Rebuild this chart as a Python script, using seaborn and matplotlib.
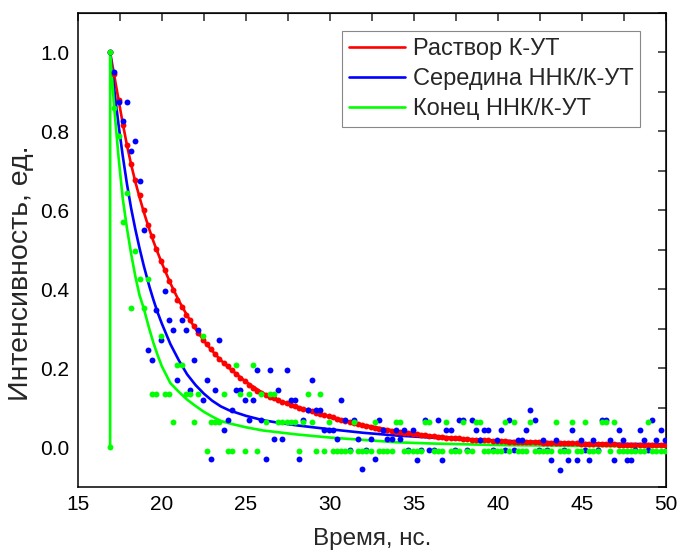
import numpy as np
import pandas as pd
import seaborn as sns
import matplotlib.pyplot as plt
from matplotlib.ticker import MultipleLocator

# time channels (ns)
t0 = 16.92
dt = 0.25
n_ch = 133

red_pts = [1.000, 0.946, 0.880, 0.817, 0.765, 0.716, 0.676, 0.640, 0.602, 0.562,
           0.534, 0.502, 0.473, 0.448, 0.420, 0.398, 0.374, 0.355, 0.336, 0.322,
           0.308, 0.290, 0.272, 0.261, 0.248, 0.236, 0.225, 0.214, 0.205, 0.195,
           0.185, 0.176, 0.167, 0.158, 0.150, 0.144, 0.139, 0.133, 0.128, 0.124,
           0.120, 0.116, 0.112, 0.108, 0.105, 0.101, 0.098, 0.094, 0.091, 0.088,
           0.085, 0.082, 0.079, 0.076, 0.073, 0.070, 0.067, 0.065, 0.062, 0.060,
           0.057, 0.055, 0.052, 0.050, 0.047, 0.045, 0.044, 0.042, 0.040, 0.039,
           0.037, 0.036, 0.034, 0.033, 0.032, 0.031, 0.030, 0.029, 0.027, 0.026,
           0.025, 0.025, 0.024, 0.023, 0.022, 0.021, 0.020, 0.020, 0.019, 0.019,
           0.018, 0.017, 0.017, 0.016, 0.016, 0.015, 0.015, 0.015, 0.014, 0.014,
           0.013, 0.013, 0.013, 0.012, 0.012, 0.012, 0.011, 0.011, 0.011, 0.010,
           0.010, 0.010, 0.009, 0.009, 0.009, 0.009, 0.008, 0.008, 0.008, 0.008,
           0.008, 0.007, 0.007, 0.007, 0.007, 0.006, 0.006, 0.006, 0.006, 0.006,
           0.005, 0.005, 0.005]

blue_pts = [1.000, 0.950, 0.875, 0.825, 0.875, 0.750, 0.775, 0.675, 0.550, 0.247,
            0.222, 0.348, 0.273, 0.397, 0.323, 0.298, 0.171, 0.323, 0.298, 0.146,
            0.222, 0.298, 0.121, 0.171, -0.029, 0.146, 0.273, 0.045, 0.070, 0.095,
            0.146, 0.146, 0.121, 0.070, 0.121, 0.197, 0.070, -0.029, 0.197, 0.022,
            0.146, 0.022, 0.197, 0.121, 0.121, -0.029, 0.070, 0.095, 0.171, 0.095,
            0.095, 0.045, 0.045, 0.045, 0.022, 0.121, 0.070, -0.006, 0.070, 0.022,
            -0.054, -0.006, 0.022, -0.029, 0.070, 0.045, 0.022, 0.022, 0.045, 0.022,
            0.045, -0.006, 0.045, -0.031, -0.006, 0.070, -0.006, -0.006, 0.070, -0.031,
            0.045, 0.045, -0.006, 0.070, 0.070, -0.006, 0.070, 0.045, 0.020, 0.045,
            0.045, -0.006, 0.020, 0.045, -0.006, 0.070, -0.006, 0.020, 0.020, 0.045,
            0.095, 0.070, -0.006, 0.020, -0.006, -0.031, 0.020, -0.056, -0.006, -0.031,
            0.045, -0.031, 0.020, -0.006, -0.031, 0.020, -0.006, 0.070, 0.070, 0.020,
            -0.031, 0.045, 0.020, -0.031, -0.031, -0.006, 0.045, 0.020, -0.006, 0.070,
            0.020, 0.045, 0.020]

green_start = 0.0  # extra point at the peak channel
green_pts = [1.000, 0.860, 0.787, 0.570, 0.643, 0.354, 0.497, 0.425, 0.354, 0.425,
             0.136, 0.136, 0.281, 0.136, 0.136, 0.064, 0.208, 0.208, 0.136, 0.136,
             0.064, 0.136, 0.281, -0.008, 0.064, 0.064, 0.064, 0.136, -0.008, -0.008,
             0.208, 0.136, -0.008, 0.136, 0.208, -0.008, 0.136, 0.064, 0.136, 0.136,
             0.064, 0.064, 0.064, 0.064, 0.064, -0.008, 0.064, 0.136, 0.064, -0.008,
             0.136, -0.008, 0.064, -0.008, -0.008, -0.008, -0.008, -0.008, 0.064, -0.008,
             -0.008, -0.008, -0.008, 0.064, -0.008, -0.008, -0.008, -0.008, 0.064, 0.064,
             -0.008, -0.008, -0.008, -0.008, -0.008, 0.064, 0.064, -0.008, -0.008, -0.008,
             0.064, -0.008, -0.008, -0.008, 0.064, -0.008, -0.008, 0.064, 0.064, -0.008,
             -0.008, -0.008, -0.008, -0.008, 0.064, -0.008, 0.064, -0.008, -0.008, -0.008,
             0.064, -0.008, -0.008, -0.008, -0.008, -0.008, 0.064, -0.008, -0.008, -0.008,
             0.064, -0.008, -0.008, 0.064, -0.008, -0.008, -0.008, 0.064, 0.064, -0.008,
             0.064, -0.008, -0.008, -0.008, -0.008, -0.008, -0.008, -0.008, 0.064, -0.008,
             -0.008, -0.008, -0.008]

# fitted curves
fit_t = [16.92, 17.17, 17.42, 17.67, 17.92, 18.17, 18.42, 18.67, 18.92, 19.25,
         19.5, 19.75, 20.0, 20.5, 21.0, 21.5, 22.0, 22.5, 23.0, 23.5,
         24.0, 25.0, 26.0, 27.0, 28.0, 29.0, 30.0, 32.0, 34.0, 36.0,
         38.0, 40.0, 42.5, 45.0, 47.5, 50.0]
red_fit = [1.0, 0.94, 0.88, 0.82, 0.765, 0.716, 0.672, 0.633, 0.596, 0.552,
           0.521, 0.493, 0.466, 0.416, 0.372, 0.334, 0.300, 0.270, 0.244, 0.221,
           0.201, 0.166, 0.138, 0.118, 0.104, 0.090, 0.078, 0.057, 0.041, 0.030,
           0.022, 0.017, 0.013, 0.009, 0.007, 0.005]
blue_fit = [1.0, 0.904, 0.817, 0.738, 0.667, 0.605, 0.552, 0.504, 0.460, 0.408,
            0.373, 0.341, 0.313, 0.262, 0.221, 0.185, 0.158, 0.136, 0.118, 0.104,
            0.094, 0.080, 0.069, 0.062, 0.056, 0.051, 0.046, 0.037, 0.030, 0.025,
            0.020, 0.017, 0.014, 0.011, 0.009, 0.008]
green_fit = [1.0, 0.857, 0.735, 0.63, 0.555, 0.49, 0.433, 0.385, 0.352, 0.30,
             0.264, 0.233, 0.205, 0.163, 0.141, 0.121, 0.105, 0.090, 0.078, 0.067,
             0.061, 0.051, 0.043, 0.038, 0.033, 0.029, 0.025, 0.019, 0.013, 0.010,
             0.008, 0.006, 0.005, 0.004, 0.003, 0.003]

labels = ['Раствор К-УТ', 'Середина ННК/К-УТ', 'Конец ННК/К-УТ']
colors = ['#ff0000', '#0000ff', '#00ff00']

t = t0 + dt * np.arange(n_ch)
pts_red = pd.DataFrame({'t': t, 'y': red_pts})
pts_blue = pd.DataFrame({'t': t, 'y': blue_pts})
pts_green = pd.DataFrame({'t': np.r_[t0, t], 'y': [green_start] + green_pts})
fit_red = pd.DataFrame({'t': fit_t, 'y': red_fit})
fit_blue = pd.DataFrame({'t': fit_t, 'y': blue_fit})
fit_green = pd.DataFrame({'t': [t0] + fit_t, 'y': [green_start] + green_fit})

sns.set_style('white')
plt.rcParams['font.family'] = ['Liberation Sans', 'DejaVu Sans']

fig, ax = plt.subplots(figsize=(6.77, 5.54), dpi=100)
fig.subplots_adjust(left=0.115, right=0.984, bottom=0.121, top=0.977)

# fit lines
for d, c, lab in zip([fit_red, fit_blue, fit_green], colors, labels):
    sns.lineplot(data=d, x='t', y='y', color=c, lw=1.9, sort=False, estimator=None,
                 ax=ax, zorder=2, label=lab)

# points
for d, c in zip([pts_red, pts_blue, pts_green], colors):
    sns.scatterplot(data=d, x='t', y='y', color=c, s=18, linewidth=0, ax=ax, zorder=3)

ax.set_xlim(15, 50)
ax.set_ylim(-0.1, 1.1)
ax.xaxis.set_major_locator(MultipleLocator(5))
ax.xaxis.set_minor_locator(MultipleLocator(2.5))
ax.yaxis.set_major_locator(MultipleLocator(0.2))
ax.yaxis.set_minor_locator(MultipleLocator(0.1))
ax.yaxis.set_major_formatter(plt.FormatStrFormatter('%.1f'))

for s in ax.spines.values():
    s.set_linewidth(1.1)
    s.set_color('black')
ax.tick_params(which='major', direction='in', length=6, width=1.1, labelsize=15,
               colors='black', pad=6)
ax.tick_params(which='minor', direction='out', length=4, width=1.1)

top = ax.secondary_xaxis('top')
top.xaxis.set_major_locator(MultipleLocator(5))
top.xaxis.set_minor_locator(MultipleLocator(2.5))
top.tick_params(which='both', direction='in', length=6, width=1.1, labeltop=False)
right = ax.secondary_yaxis('right')
right.yaxis.set_major_locator(MultipleLocator(0.2))
right.yaxis.set_minor_locator(MultipleLocator(0.1))
right.tick_params(which='both', direction='in', length=6, width=1.1, labelright=False)

ax.set_xlabel('Время, нс.', fontsize=17.5, labelpad=10)
ax.set_ylabel('Интенсивность, ед.', fontsize=20.5)
ax.yaxis.set_label_coords(-0.075, 0.45)

leg = ax.legend(loc='upper right', bbox_to_anchor=(0.956, 0.962), fontsize=17,
                frameon=True, fancybox=False, edgecolor='#888888', framealpha=1,
                handlelength=2.4, handletextpad=0.3, borderpad=0.3, labelspacing=0.35,
                borderaxespad=0)
leg.get_frame().set_linewidth(0.8)

plt.savefig('out.png', dpi=100)
